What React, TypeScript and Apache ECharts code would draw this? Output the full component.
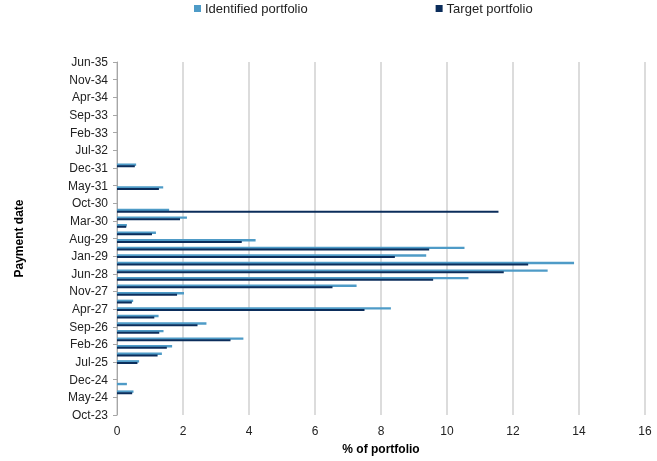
import React, { useEffect, useRef } from "react";
import * as echarts from "echarts";

const MONTHS = ["Jan", "Feb", "Mar", "Apr", "May", "Jun", "Jul", "Aug", "Sep", "Oct", "Nov", "Dec"];

// Payment dates (quarterly) and the share of each portfolio paid then
const paymentDates = [
  "Jul-24", "Oct-24", "Jul-25", "Oct-25", "Jan-26", "Apr-26", "Jul-26", "Oct-26",
  "Jan-27", "Apr-27", "Jul-27", "Oct-27", "Jan-28", "Apr-28", "Jul-28", "Oct-28",
  "Jan-29", "Apr-29", "Jul-29", "Oct-29", "Jan-30", "Apr-30", "Jul-30", "Apr-31", "Jan-32",
];
const identified = [
  0.50, 0.30, 0.67, 1.36, 1.67, 3.83, 1.41, 2.71,
  1.26, 8.30, 0.49, 2.03, 7.26, 10.65, 13.05, 13.85,
  9.37, 10.53, 4.20, 1.18, 0.30, 2.12, 1.58, 1.40, 0.58,
];
const target = [
  0.46, 0, 0.62, 1.23, 1.51, 3.44, 1.28, 2.44,
  1.13, 7.50, 0.45, 1.82, 6.53, 9.58, 11.72, 12.46,
  8.42, 9.46, 3.78, 1.06, 0.28, 1.91, 11.56, 1.27, 0.54,
];

// Monthly axis categories from Oct-23 to Jun-35
const startYear = 2023;
const startMonth = 9; // October (0-based)
const monthCount = 141;
const categories: string[] = [];
for (let i = 0; i < monthCount; i++) {
  const m = (startMonth + i) % 12;
  const y = startYear + Math.floor((startMonth + i) / 12);
  categories.push(`${MONTHS[m]}-${String(y % 100).padStart(2, "0")}`);
}

const xTicks = { min: 0, max: 16, interval: 2 };

function toMonthly(values: number[]): (number | null)[] {
  const out: (number | null)[] = categories.map(() => null);
  paymentDates.forEach((d, i) => {
    const idx = categories.indexOf(d);
    if (idx >= 0) out[idx] = values[i];
  });
  return out;
}

const FONT = "'Liberation Sans', Arial, sans-serif";

export default function App() {
  const ref = useRef<HTMLDivElement>(null);
  useEffect(() => {
    if (!ref.current) return;
    const chart = echarts.init(ref.current, undefined, { renderer: "svg" });
    chart.setOption({
      animation: false,
      textStyle: { fontFamily: FONT },
      legend: {
        left: 194,
        top: 2,
        padding: 0,
        itemWidth: 7,
        itemHeight: 7,
        itemGap: 128,
        icon: "rect",
        textStyle: { fontSize: 13, color: "#222", fontFamily: FONT, padding: [0, 0, 0, -1] },
        data: ["Identified portfolio", "Target portfolio"],
      },
      grid: {
        left: 117,
        right: 12,
        top: 62,
        bottom: 46,
        containLabel: false,
        outerBoundsMode: "none",
      },
      xAxis: {
        type: "value",
        min: xTicks.min,
        max: xTicks.max,
        interval: xTicks.interval,
        name: "% of portfolio",
        nameLocation: "middle",
        nameGap: 28,
        nameTextStyle: { fontSize: 12, fontWeight: "bold", color: "#000", fontFamily: FONT },
        axisLine: { show: false },
        axisTick: { show: false },
        axisLabel: { fontSize: 12, color: "#222", margin: 10, fontFamily: FONT },
        splitLine: { show: true, lineStyle: { color: "#d0d0d0", width: 1.5 } },
      },
      yAxis: {
        type: "category",
        data: categories,
        boundaryGap: false,
        name: "Payment date",
        nameLocation: "middle",
        nameRotate: 90,
        nameGap: 92,
        nameTextStyle: { fontSize: 12, fontWeight: "bold", color: "#000", fontFamily: FONT },
        axisLine: { show: true, lineStyle: { color: "#a6a6a6", width: 1 } },
        axisTick: { show: true, interval: 6, length: 4, lineStyle: { color: "#a6a6a6" } },
        axisLabel: { interval: 6, fontSize: 12, color: "#222", margin: 9, fontFamily: FONT },
        splitLine: { show: false },
      },
      series: [
        {
          name: "Identified portfolio",
          type: "bar",
          data: toMonthly(identified),
          barWidth: 2.4,
          barGap: "-25%",
          itemStyle: { color: "#4e9bc7" },
        },
        {
          name: "Target portfolio",
          type: "bar",
          data: toMonthly(target),
          barWidth: 2,
          itemStyle: { color: "#0b2d5b" },
        },
      ],
    });
    return () => chart.dispose();
  }, []);
  return (
    <div
      ref={ref}
      style={{ position: "fixed", left: 0, top: 0, width: 657, height: 461 }}
    />
  );
}
